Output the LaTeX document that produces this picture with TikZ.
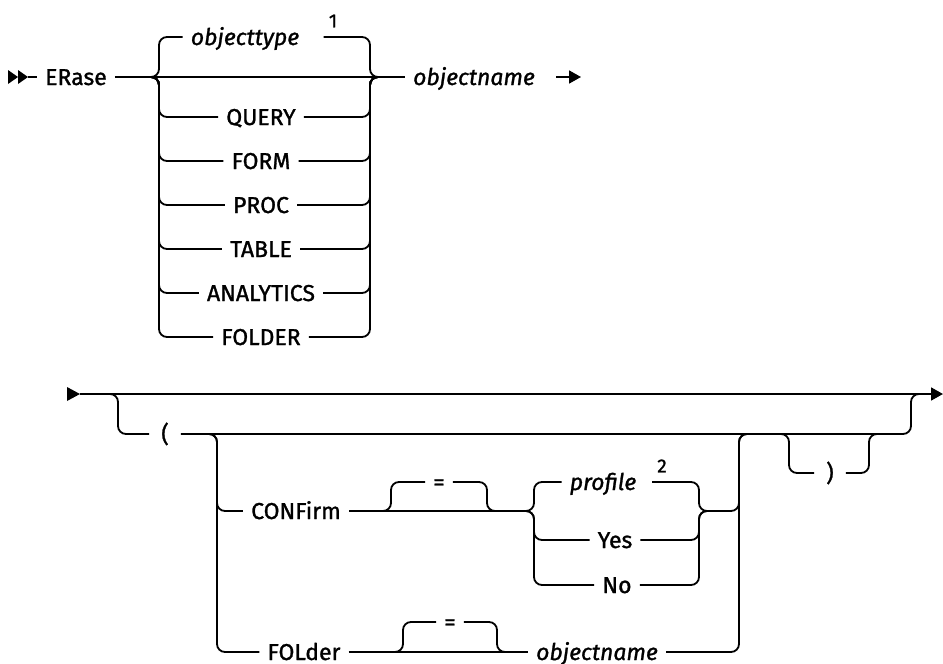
\documentclass[tikz,border=0pt]{standalone}
\usepackage{fontspec}
\setmainfont{Fira Sans}[FakeBold=1.2]
\usetikzlibrary{arrows.meta, positioning}

\tikzset{
  rail/.style={line width=1.8pt, rounded corners=8pt},
  kw/.style={font=\fontsize{23}{26}\selectfont, inner xsep=8pt, inner ysep=0pt, text height=18pt, text depth=2pt},
  var/.style={kw, font=\fontsize{23}{26}\selectfont\itshape},
  fnote/.style={font=\fontsize{19}{22}\selectfont, inner xsep=5pt, inner ysep=0pt},
  endtip/.style={-{Triangle[length=12pt,width=13pt]}}
}

\begin{document}
\begin{tikzpicture}[x=1pt, y=-1pt]
    \useasboundingbox (0,0) rectangle (943,664);

    % ERase statement, first line
    \fill (8,70) -- (18,77) -- (8,84) -- cycle;
    \fill (18,70) -- (28,77) -- (18,84) -- cycle;
    \node[kw] (erase) at (76,77) {ERase};
    \node[var] (oname) at (474,77) {objectname};
    \draw[rail] (28,77) -- (erase.west);
    \draw[rail] (erase.east) -- (oname.west);
    \coordinate (lb) at (150,77);
    \coordinate (rb) at (378,77);
    \coordinate (c1) at (159,0);
    \coordinate (c2) at (370,0);
    \node[var] (otype) at (245,37) {objecttype};
    \node[fnote] (n1) at (333,21) {1};
    \draw[rail] (lb) -| (c1 |- otype.west) -- (otype.west);
    \draw[rail] (n1.west |- otype.east) -- (c2 |- otype.east) |- (rb);
    \foreach \nm/\yy in {QUERY/117, FORM/161, PROC/205, TABLE/249, ANALYTICS/293, FOLDER/337} {
      \node[kw] (\nm) at (261,\yy) {\nm};
      \draw[rail] (lb) -| (c1 |- \nm.west) -- (\nm.west);
      \draw[rail] (\nm.east) -- (c2 |- \nm.east) |- (rb);
    }
    \coordinate (e1) at (556,77);
    \draw[rail, endtip] (e1) -- (581,77);

    % second line with the options in parentheses
    \fill (67,387) -- (80,394) -- (67,401) -- cycle;
    \coordinate (s2) at (80,394);
    \draw[rail, endtip] (s2) -- (943,394);
    \coordinate (pb) at (108,394);
    \coordinate (pe) at (921,394);
    \coordinate (c3) at (118,0);
    \coordinate (c8) at (911,0);
    \node[kw, inner xsep=12pt] (lpar) at (165,434) {(};
    \draw[rail] (pb) -| (c3 |- lpar.west) -- (lpar.west);
    \draw[rail] (lpar.east) -- (c8 |- lpar.east) |- (pe);

    % CONFirm / FOLder choice
    \coordinate (ib) at (208,434);
    \coordinate (ie) at (748,434);
    \coordinate (c4) at (217,0);
    \coordinate (c5) at (739,0);
    \node[kw] (confirm) at (296,511) {CONFirm};
    \node[kw] (folder) at (304,652) {FOLder};
    \draw[rail] (ib) -| (c4 |- confirm.west) -- (confirm.west);
    \draw[rail] (ib) -| (c4 |- folder.west) -- (folder.west);

    % optional = after CONFirm
    \coordinate (q1) at (381,511);
    \coordinate (q2) at (497,511);
    \coordinate (k1) at (391,0);
    \coordinate (k2) at (487,0);
    \node[kw] (eq1) at (439,482) {=};
    \draw[rail] (q1) -| (k1 |- eq1.west) -- (eq1.west);
    \draw[rail] (eq1.east) -- (k2 |- eq1.east) |- (q2);

    % profile / Yes / No
    \coordinate (pl) at (525,511);
    \coordinate (pr) at (708,511);
    \coordinate (c6) at (534,0);
    \coordinate (c7) at (699,0);
    \draw[rail] (confirm.east) -- (pl);
    \node[var] (profile) at (603,482) {profile};
    \node[fnote] (n2) at (662,466) {2};
    \node[kw] (yes) at (615,540) {Yes};
    \node[kw] (no) at (617,585) {No};
    \draw[rail] (pl) -| (c6 |- profile.west) -- (profile.west);
    \draw[rail] (n2.west |- profile.east) -- (c7 |- profile.east) |- (pr);
    \draw[rail] (pl) -| (c6 |- yes.west) -- (yes.west);
    \draw[rail] (yes.east) -- (c7 |- yes.east) |- (pr);
    \draw[rail] (pl) -| (c6 |- no.west) -- (no.west);
    \draw[rail] (no.east) -- (c7 |- no.east) |- (pr);
    \draw[rail] (pr) -- (c5 |- pr) |- (ie);

    % FOLder row
    \node[var] (oname2) at (597,652) {objectname};
    \coordinate (q3) at (393,652);
    \coordinate (q4) at (507,652);
    \coordinate (k3) at (403,0);
    \coordinate (k4) at (497,0);
    \node[kw] (eq2) at (450,622) {=};
    \draw[rail] (folder.east) -- (oname2.west);
    \draw[rail] (q3) -| (k3 |- eq2.west) -- (eq2.west);
    \draw[rail] (eq2.east) -- (k4 |- eq2.east) |- (q4);
    \draw[rail] (oname2.east) -- (c5 |- oname2.east) |- (ie);

    % optional closing parenthesis
    \coordinate (r1) at (779,434);
    \coordinate (r2) at (879,434);
    \coordinate (k5) at (789,0);
    \coordinate (k6) at (869,0);
    \node[kw, inner xsep=12pt] (rpar) at (830,473) {)};
    \draw[rail] (r1) -| (k5 |- rpar.west) -- (rpar.west);
    \draw[rail] (rpar.east) -- (k6 |- rpar.east) |- (r2);
\end{tikzpicture}
\end{document}
